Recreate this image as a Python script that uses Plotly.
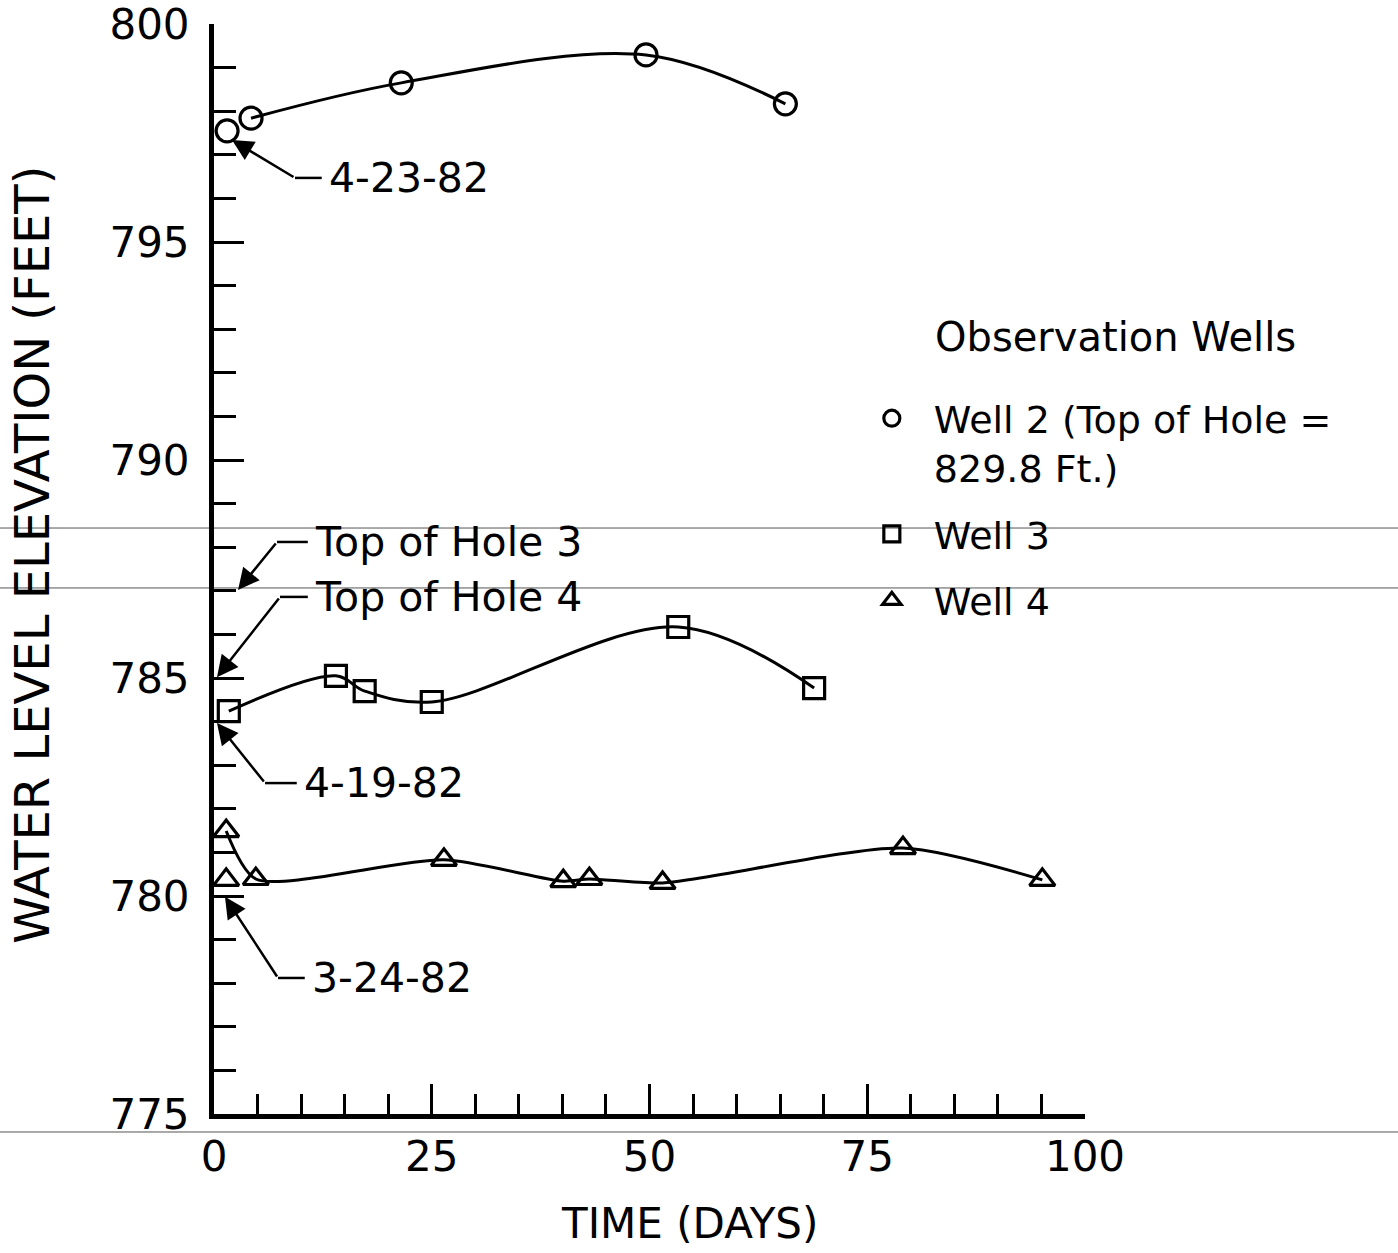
import plotly.graph_objects as go

# ---------------- data ----------------
well2_days = [1.5, 4.25, 21.5, 49.6, 65.6]
well2_elev = [797.55, 797.84, 798.65, 799.29, 798.17]

well3_days = [1.7, 14.0, 17.3, 25.0, 53.3, 68.9]
well3_elev = [784.24, 785.05, 784.70, 784.45, 786.17, 784.77]

well4_days = [1.4, 1.4, 4.8, 26.4, 40.1, 43.1, 51.5, 79.1, 95.1]
well4_elev = [781.49, 780.37, 780.39, 780.83, 780.34, 780.39, 780.30, 781.10, 780.37]

# indices of points joined by the smooth curve
well2_curve = [1, 2, 3, 4]
well3_curve = [0, 1, 2, 3, 4, 5]
well4_curve = [0, 2, 3, 4, 5, 6, 7, 8]

x_ticks = [0, 25, 50, 75, 100]
y_ticks = [775, 780, 785, 790, 795, 800]

# callouts: (text, tip x, tip y, elbow x, elbow y, text x)
callouts = [
    ("4-23-82", 2.07, 797.34, 9.30, 796.47, 12.97),
    ("Top of Hole 3", 2.76, 787.02, 7.23, 788.12, 11.37),
    ("Top of Hole 4", 0.34, 785.02, 7.58, 786.86, 11.37),
    ("4-19-82", 0.34, 783.97, 5.86, 782.59, 10.10),
    ("3-24-82", 1.26, 779.98, 7.35, 778.12, 11.02),
]

FONT = "DejaVu Sans"
INK = "black"

fig = go.Figure()

series = [
    ("Well 2 (Top of Hole =<br>829.8 Ft.)", well2_days, well2_elev, well2_curve, "circle-open", 22, 1.0),
    ("Well 3", well3_days, well3_elev, well3_curve, "square-open", 21, 1.0),
    ("Well 4", well4_days, well4_elev, well4_curve, "triangle-up-open", 22, 0.7),
]

for name, xs, ys, idx, sym, ms, sm in series:
    fig.add_trace(go.Scatter(
        x=[xs[i] for i in idx], y=[ys[i] for i in idx],
        mode="lines", line=dict(color=INK, width=3, shape="spline", smoothing=sm),
        showlegend=False, hoverinfo="skip", cliponaxis=False,
    ))
for k, (name, xs, ys, idx, sym, ms, sm) in enumerate(series):
    fig.add_trace(go.Scatter(
        x=xs, y=ys, mode="markers", name=name, legendgroup=f"g{k}",
        marker=dict(symbol=sym, size=ms, color=INK, line=dict(color=INK, width=3.2)),
        cliponaxis=False,
    ))

annotations = []
shapes = []
for text, tx, ty, ex, ey, lx in callouts:
    # arrow from elbow to tip
    annotations.append(dict(
        x=tx, y=ty, ax=ex, ay=ey, xref="x", yref="y", axref="x", ayref="y",
        text="", showarrow=True, arrowhead=2, arrowsize=1.7, arrowwidth=2.5,
        arrowcolor=INK, standoff=0,
    ))
    # horizontal leader
    shapes.append(dict(type="line", xref="x", yref="y", x0=ex, x1=lx - 0.6,
                       y0=ey, y1=ey, line=dict(color=INK, width=2.5)))
    annotations.append(dict(
        x=lx, y=ey, xref="x", yref="y", text=text, showarrow=False,
        xanchor="left", yanchor="middle", font=dict(family=FONT, size=41, color=INK),
    ))

# legend heading
annotations.append(dict(
    x=0.8255, y=0.7128, xref="paper", yref="paper", text="Observation Wells",
    showarrow=False, xanchor="left", yanchor="middle",
    font=dict(family=FONT, size=40, color=INK),
))
# axis titles
annotations.append(dict(
    x=0.546, y=-0.1245, xref="paper", yref="paper", text="TIME (DAYS)",
    showarrow=False, xanchor="center", yanchor="bottom",
    font=dict(family=FONT, size=42, color=INK),
))
annotations.append(dict(
    x=-0.209, y=0.513, xref="paper", yref="paper", text="WATER LEVEL ELEVATION (FEET)",
    showarrow=False, xanchor="center", yanchor="middle", textangle=-90,
    font=dict(family=FONT, size=48, color=INK),
))

# scan lines across the page
for yp in [0.5376, 0.4826, -0.0165]:
    shapes.append(dict(type="line", xref="paper", yref="paper", x0=-0.25, x1=1.36,
                       y0=yp, y1=yp, line=dict(color="#555555", width=1), layer="below"))

fig.update_layout(
    width=1398, height=1253,
    margin=dict(l=214, r=313, t=24, b=139, autoexpand=False),
    paper_bgcolor="white", plot_bgcolor="white",
    font=dict(family=FONT, color=INK),
    annotations=annotations, shapes=shapes,
    showlegend=True,
    legend=dict(
        x=0.730, y=0.667, xanchor="left", yanchor="top",
        font=dict(family=FONT, size=38, color=INK),
        bgcolor="rgba(0,0,0,0)", valign="top", tracegroupgap=14,
        itemsizing="trace", itemwidth=74,
    ),
    xaxis=dict(
        range=[0, 100], tickvals=x_ticks, ticktext=[str(v) for v in x_ticks],
        showgrid=False, zeroline=False, showline=True, linecolor=INK, linewidth=5,
        ticks="inside", ticklen=30, tickwidth=3, tickcolor=INK, automargin=False,
        ticklabeloverflow="allow",
        tickfont=dict(family=FONT, size=42, color=INK), ticklabelstandoff=2,
        minor=dict(dtick=5, ticks="inside", ticklen=20, tickwidth=3, tickcolor=INK, showgrid=False),
        fixedrange=True,
    ),
    yaxis=dict(
        range=[775, 800], tickvals=y_ticks, ticktext=[str(v) for v in y_ticks],
        showgrid=False, zeroline=False, showline=True, linecolor=INK, linewidth=5,
        ticks="inside", ticklen=30, tickwidth=3, tickcolor=INK, automargin=False,
        ticklabeloverflow="allow",
        tickfont=dict(family=FONT, size=42, color=INK), ticklabelstandoff=11,
        minor=dict(dtick=1, ticks="inside", ticklen=22, tickwidth=3, tickcolor=INK, showgrid=False),
        fixedrange=True,
    ),
)

fig.write_html("out.html")
